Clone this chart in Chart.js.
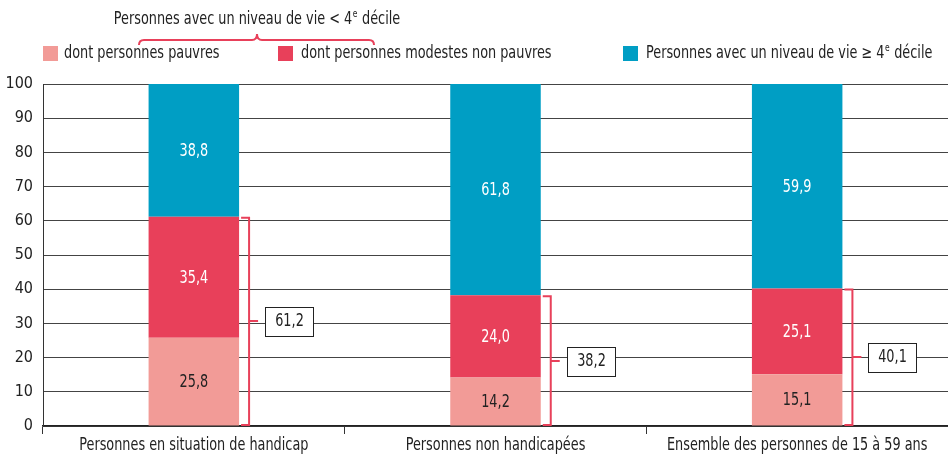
<!DOCTYPE html>
<html>
<head>
<meta charset="utf-8">
<script src="https://cdn.jsdelivr.net/npm/chart.js@4"></script>
<style>
  body { margin: 0; background: #fff; }
  #wrap { width: 948px; height: 457px; position: relative; }
</style>
</head>
<body>
<div id="wrap"><canvas id="chart"></canvas></div>
<script>
// Data
const categories = ['Personnes en situation de handicap', 'Personnes non handicapées', 'Ensemble des personnes de 15 à 59 ans'];
const pauvres = [25.8, 14.2, 15.1];
const modestes = [35.4, 24.0, 25.1];
const aises = [38.8, 61.8, 59.9];
const totauxBas = [61.2, 38.2, 40.1];
const seriesLabels = ['dont personnes pauvres', 'dont personnes modestes non pauvres', 'Personnes avec un niveau de vie ≥ 4e décile'];
const groupLabel = 'Personnes avec un niveau de vie < 4e décile';
const yMin = 0, yMax = 100, yStep = 10;

const FONT = '"DejaVu Sans Condensed", "Liberation Sans Narrow", sans-serif';
const COND = 0.84; // horizontal squeeze to look like the condensed original
const colors = ['#F29B97', '#E8405A', '#009EC4'];
const textColors = ['#222', '#fff', '#fff'];

const fmt = v => v.toFixed(1).replace('.', ',');

// draw text squeezed horizontally
function fillCond(ctx, text, x, y, size, align) {
  ctx.save();
  ctx.font = size + 'px ' + FONT;
  ctx.textBaseline = 'middle';
  ctx.textAlign = align;
  ctx.translate(x, y);
  ctx.scale(COND, 1);
  ctx.fillText(text, 0, 0);
  ctx.restore();
}

function condWidth(ctx, text, size) {
  ctx.font = size + 'px ' + FONT;
  return ctx.measureText(text).width * COND;
}

// text with a superscript "e" after the 4
function drawSup(ctx, text, x, y, size, align) {
  const idx = text.indexOf('4e');
  const a = text.slice(0, idx + 1), b = 'e', c = text.slice(idx + 2);
  const sup = Math.round(size * 0.6);
  const wa = condWidth(ctx, a, size), wb = condWidth(ctx, b, sup), wc = condWidth(ctx, c, size);
  const total = wa + wb + wc + 1;
  const sx = align === 'center' ? x - total / 2 : x;
  fillCond(ctx, a, sx, y, size, 'left');
  fillCond(ctx, b, sx + wa + 0.5, y - size * 0.3, sup, 'left');
  fillCond(ctx, c, sx + wa + wb + 1, y, size, 'left');
}

const legendPlugin = {
  id: 'customLegend',
  afterDraw(chart) {
    const ctx = chart.ctx;
    ctx.save();
    ctx.fillStyle = '#222';
    // group title + brace
    drawSup(ctx, groupLabel, 257, 20, 17, 'center');
    ctx.strokeStyle = colors[1];
    ctx.lineWidth = 2;
    ctx.beginPath();
    ctx.moveTo(139, 45);
    ctx.quadraticCurveTo(139, 40, 144, 40);
    ctx.lineTo(252, 40);
    ctx.quadraticCurveTo(257, 40, 257, 34);
    ctx.quadraticCurveTo(257, 40, 262, 40);
    ctx.lineTo(369, 40);
    ctx.quadraticCurveTo(374, 40, 374, 45);
    ctx.stroke();
    // legend items
    const items = [[43, 64], [278, 301], [623, 646]];
    items.forEach((it, i) => {
      ctx.fillStyle = colors[i];
      ctx.fillRect(it[0], 46, 15, 15);
      ctx.fillStyle = '#222';
      if (i === 2) {
        drawSup(ctx, seriesLabels[i], it[1], 54, 17, 'left');
      } else {
        fillCond(ctx, seriesLabels[i], it[1], 54, 17, 'left');
      }
    });
    // category labels under the x axis
    const xScale = chart.scales.x;
    categories.forEach((c, i) => {
      fillCond(ctx, c, xScale.getPixelForValue(i), 446, 17, 'center');
    });
    ctx.restore();
  }
};

const labelsPlugin = {
  id: 'segmentLabels',
  afterDatasetsDraw(chart) {
    const ctx = chart.ctx;
    const yScale = chart.scales.y;
    ctx.save();
    chart.data.datasets.forEach((ds, di) => {
      const meta = chart.getDatasetMeta(di);
      meta.data.forEach((bar, i) => {
        ctx.fillStyle = textColors[di];
        fillCond(ctx, fmt(ds.data[i]), bar.x, (bar.y + bar.base) / 2 + 1, 17, 'center');
      });
    });
    // brackets with totals of the two lower segments
    const meta = chart.getDatasetMeta(1);
    meta.data.forEach((bar, i) => {
      const right = bar.x + bar.width / 2;
      const bx = right + 10;
      const yTop = yScale.getPixelForValue(pauvres[i] + modestes[i]);
      const yBot = yScale.getPixelForValue(0);
      const yMid = Math.round(yScale.getPixelForValue(totauxBas[i] / 2));
      ctx.strokeStyle = colors[1];
      ctx.lineWidth = 2;
      ctx.beginPath();
      ctx.moveTo(right + 2, yTop + 1);
      ctx.lineTo(bx, yTop + 1);
      ctx.lineTo(bx, yBot - 1);
      ctx.lineTo(right + 2, yBot - 1);
      ctx.moveTo(bx, yMid);
      ctx.lineTo(bx + 9, yMid);
      ctx.stroke();
      const boxX = Math.round(bx + 16), boxW = 48, boxH = 29;
      const boxY = Math.round(yMid - boxH / 2);
      ctx.fillStyle = '#fff';
      ctx.fillRect(boxX, boxY, boxW, boxH);
      ctx.strokeStyle = '#222';
      ctx.lineWidth = 1;
      ctx.strokeRect(boxX + 0.5, boxY + 0.5, boxW, boxH);
      ctx.fillStyle = '#222';
      fillCond(ctx, fmt(totauxBas[i]), boxX + boxW / 2 + 0.5, yMid + 1, 17, 'center');
    });
    ctx.restore();
  }
};

const ctx = document.getElementById('chart').getContext('2d');
const myChart = new Chart(ctx, {
  type: 'bar',
  data: {
    labels: categories,
    datasets: [
      { label: seriesLabels[0], data: pauvres, backgroundColor: colors[0] },
      { label: seriesLabels[1], data: modestes, backgroundColor: colors[1] },
      { label: seriesLabels[2], data: aises, backgroundColor: colors[2] }
    ]
  },
  options: {
    responsive: true,
    maintainAspectRatio: false,
    animation: false,
    layout: { padding: { top: 84, right: -5, bottom: 0, left: 0 } },
    datasets: { bar: { categoryPercentage: 1, barPercentage: 0.3 } },
    plugins: { legend: { display: false }, tooltip: { enabled: false } },
    scales: {
      x: {
        stacked: true,
        grid: { offset: true, drawOnChartArea: false, drawTicks: true, tickLength: 8, color: '#333' },
        border: { color: '#222', width: 1.5 },
        ticks: { display: false },
        afterFit(scale) { scale.height = 31; }
      },
      y: {
        stacked: true,
        min: yMin,
        max: yMax,
        ticks: { stepSize: yStep, font: { family: FONT, size: 16 }, color: '#222', padding: 10 },
        grid: { color: '#444', drawTicks: false },
        border: { color: '#333' },
        afterFit(scale) { scale.width = 43; }
      }
    }
  },
  plugins: [labelsPlugin, legendPlugin]
});
</script>
</body>
</html>
